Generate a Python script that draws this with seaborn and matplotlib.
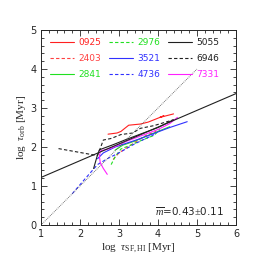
import numpy as np
import pandas as pd
import matplotlib
matplotlib.use("Agg")
import matplotlib.pyplot as plt
from matplotlib.ticker import MultipleLocator
import seaborn as sns

# ---- data ----
names = ["0925", "2403", "2841", "2976", "3521", "4736", "5055", "6946", "7331"]
colors = ["#ff2020", "#ff4040", "#20e020", "#20e020", "#3030ff", "#3030ff", "#202020", "#202020", "#ff20ff"]
dashed = [False, True, False, True, False, True, False, True, False]

x0925 = [2.72, 2.95, 3.05, 3.25, 3.55, 3.75, 3.95, 4.15, 4.05, 4.40]
y0925 = [2.33, 2.36, 2.40, 2.56, 2.59, 2.64, 2.72, 2.80, 2.76, 2.85]
x2403 = [2.85, 3.00, 3.20, 3.45, 3.70, 3.95]
y2403 = [1.68, 1.85, 1.98, 2.15, 2.30, 2.40]
x2841 = [2.90, 3.10, 3.40, 3.70, 4.00, 4.30]
y2841 = [1.92, 2.05, 2.15, 2.28, 2.40, 2.52]
x2976 = [2.80, 2.90, 3.05, 3.30, 3.60, 3.90, 4.05]
y2976 = [1.55, 1.75, 1.95, 2.05, 2.18, 2.30, 2.45]
x3521 = [2.45, 2.60, 2.90, 3.20, 3.50, 3.90, 4.30, 4.75]
y3521 = [1.70, 1.85, 2.00, 2.10, 2.20, 2.35, 2.50, 2.65]
x4736 = [1.80, 2.10, 2.45, 2.70, 3.00, 3.40, 3.90]
y4736 = [0.80, 1.15, 1.55, 1.70, 1.85, 2.08, 2.32]
x5055 = [2.35, 2.45, 2.50, 2.85, 3.20, 3.60, 4.00, 4.40]
y5055 = [1.45, 1.80, 1.93, 2.06, 2.20, 2.35, 2.50, 2.70]
x6946 = [1.45, 2.45, 2.60, 2.80, 3.05, 3.35, 3.55, 3.90, 4.40]
y6946 = [1.96, 1.78, 2.18, 2.22, 2.32, 2.36, 2.48, 2.55, 2.70]
x7331 = [2.70, 2.60, 2.52, 2.50, 2.52, 2.80, 3.20, 3.60, 4.00, 4.30, 4.50]
y7331 = [1.30, 1.45, 1.60, 1.75, 1.90, 1.97, 2.15, 2.30, 2.45, 2.60, 2.76]

xs = [x0925, x2403, x2841, x2976, x3521, x4736, x5055, x6946, x7331]
ys = [y0925, y2403, y2841, y2976, y3521, y4736, y5055, y6946, y7331]

# fit line and one-to-one line
fit_x = [1.0, 6.0]
fit_y = [1.22, 3.37]
one_x = [1.0, 5.0]
one_y = [0.0, 4.0]
slope_text = r"$\overline{m}$=0.43$\pm$0.11"

# ---- plotting ----
sns.set_style("ticks")
plt.rcParams["font.family"] = ["DejaVu Sans"]
plt.rcParams["mathtext.fontset"] = "custom"
plt.rcParams["mathtext.it"] = "Liberation Serif:italic"
plt.rcParams["mathtext.rm"] = "Liberation Serif"

fig = plt.figure(figsize=(2.66, 2.66), dpi=100)
ax = fig.add_axes([0.154, 0.154, 0.733, 0.733])

for n, c, d, x, y in zip(names, colors, dashed, xs, ys):
    df = pd.DataFrame({"x": x, "y": y})
    sns.lineplot(data=df, x="x", y="y", ax=ax, sort=False, estimator=None,
                 color=c, lw=0.8, label=n,
                 dashes=False, linestyle=(0, (3, 2)) if d else "-")

sns.lineplot(x=fit_x, y=fit_y, ax=ax, color="#202020", lw=0.8, sort=False, estimator=None)
sns.lineplot(x=one_x, y=one_y, ax=ax, color="#555555", lw=0.6, linestyle=(0, (1, 1.2)),
             sort=False, estimator=None)

ax.set_xlim(1, 6)
ax.set_ylim(0, 5)
ax.xaxis.set_major_locator(MultipleLocator(1))
ax.yaxis.set_major_locator(MultipleLocator(1))
ax.xaxis.set_minor_locator(MultipleLocator(0.2))
ax.yaxis.set_minor_locator(MultipleLocator(0.2))
ax.tick_params(which="both", direction="in", top=True, right=True, labelsize=7, width=0.6, pad=3)
ax.tick_params(which="major", length=4)
ax.tick_params(which="minor", length=2)
for s in ax.spines.values():
    s.set_linewidth(0.7)

ax.set_xlabel(r"log  $\tau_{\rm SF,HI}$ [Myr]", family="Liberation Serif", fontsize=8, labelpad=2)
ax.set_ylabel(r"log  $\tau_{\rm orb}$ [Myr]", family="Liberation Serif", fontsize=8, labelpad=2)

ax.text(0.94, 0.067, slope_text, transform=ax.transAxes, ha="right", va="center", fontsize=7.5)

leg = ax.legend(loc="upper left", ncol=3, frameon=False, fontsize=6.5,
                bbox_to_anchor=(0.02, 0.985), handlelength=2.6, handletextpad=0.5,
                columnspacing=0.9, labelspacing=0.75, borderaxespad=0.2)
for t, c in zip(leg.get_texts(), colors):
    t.set_color(c)

fig.savefig("out.png", dpi=100)
